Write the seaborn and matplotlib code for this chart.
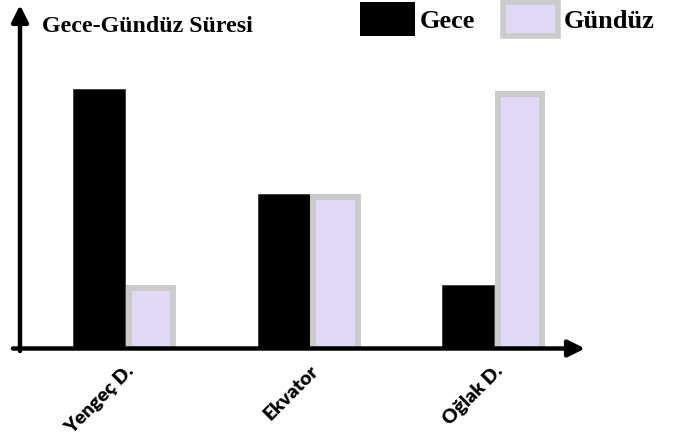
import matplotlib
matplotlib.use("Agg")
import matplotlib.pyplot as plt
import matplotlib.patches as mpatches
import seaborn as sns
import pandas as pd

# Day / night duration at three latitudes (relative units)
locations = ["Yengeç D.", "Ekvator", "Oğlak D."]
gece = [16.8, 10.0, 4.1]
gunduz = [3.9, 9.8, 16.5]
series = ["Gece", "Gündüz"]
title = "Gece-Gündüz Süresi"

df = pd.DataFrame({
    "yer": locations * 2,
    "sure": gece + gunduz,
    "tur": [series[0]] * 3 + [series[1]] * 3,
})

sns.set_theme(style="white")
plt.rcParams["font.family"] = ["DejaVu Sans"]
plt.rcParams["text.color"] = "black"
plt.rcParams["xtick.color"] = "black"
plt.rcParams["xtick.labelcolor"] = "black"

W, H = 684, 446
fig = plt.figure(figsize=(W / 100, H / 100), dpi=100)
# axes box: y-axis at x=20px, x-axis at y=348.5px, arrow tips at x=585 / y=5
ax = fig.add_axes([20 / W, (H - 348.5) / H, 565 / W, 343.5 / H])

night_col = "#000000"
day_fill = "#e0d8f5"
day_edge = "#cbcbcb"

sns.barplot(data=df, x="yer", y="sure", hue="tur", order=locations,
            hue_order=series, palette=[night_col, day_fill],
            width=0.562, gap=0, legend=False, ax=ax, saturation=1)

# night bars: plain black; day bars: lavender with thick grey frame
for p in ax.containers[0]:
    p.set_edgecolor("#3a3a3a")
    p.set_linewidth(0.6)
    p.set_zorder(2)
for p in ax.containers[1]:
    cx = p.get_x() + p.get_width() / 2
    w = 0.24
    p.set_x(cx - w / 2)
    p.set_width(w)
    p.set_edgecolor(day_edge)
    p.set_linewidth(4.3)
    p.set_joinstyle("miter")
    p.set_zorder(3)

# axes range: 15.45 px per unit, categories ~184 px apart
ax.set_ylim(0, 343.5 / 15.45)
ax.set_xlim(-105.2 / 184.375, (565 - 105.2) / 184.375)

for s in ax.spines.values():
    s.set_visible(False)
ax.set_yticks([])
ax.set_xlabel("")
ax.set_ylabel("")
ax.tick_params(axis="x", length=0, pad=10)
ax.set_xticks(range(len(locations)))
ax.set_xticklabels(locations, rotation=45, ha="right", va="top",
                   rotation_mode="anchor", fontsize=14,
                   fontweight="heavy", family="Lato", color="black")

# arrowed axes
arrow_kw = dict(arrowstyle="-|>,head_length=0.5,head_width=0.25",
                lw=3.2, color="black", mutation_scale=20,
                shrinkA=0, shrinkB=0)
ax.annotate("", xy=(0, 1), xytext=(0, -2.5 / 343.5),
            xycoords="axes fraction", textcoords="axes fraction",
            arrowprops=arrow_kw, annotation_clip=False, zorder=5)
ax.annotate("", xy=(1, 0), xytext=(-7 / 565, 0),
            xycoords="axes fraction", textcoords="axes fraction",
            arrowprops=arrow_kw, annotation_clip=False, zorder=5)

fig.text(42 / W, 1 - 32 / H, title, ha="left", va="baseline",
         fontsize=17.2, fontweight="bold", family="Liberation Serif",
         color="black")

handles = [
    mpatches.Patch(facecolor=night_col, edgecolor=night_col, linewidth=0),
    mpatches.Patch(facecolor=day_fill, edgecolor=day_edge, linewidth=4.0,
                   joinstyle="miter"),
]
leg = ax.legend(handles=handles, labels=series,
                loc="upper left", bbox_to_anchor=(360 / W, 1 - 2 / H),
                bbox_transform=fig.transFigure, ncol=2, frameon=False,
                borderpad=0, borderaxespad=0, handlelength=2.08,
                handleheight=1.63, handletextpad=0.2, columnspacing=1.05,
                prop={"family": "Liberation Serif", "weight": "bold",
                      "size": 19})
for t in leg.get_texts():
    t.set_color("black")

fig.savefig("out.png", dpi=100)
